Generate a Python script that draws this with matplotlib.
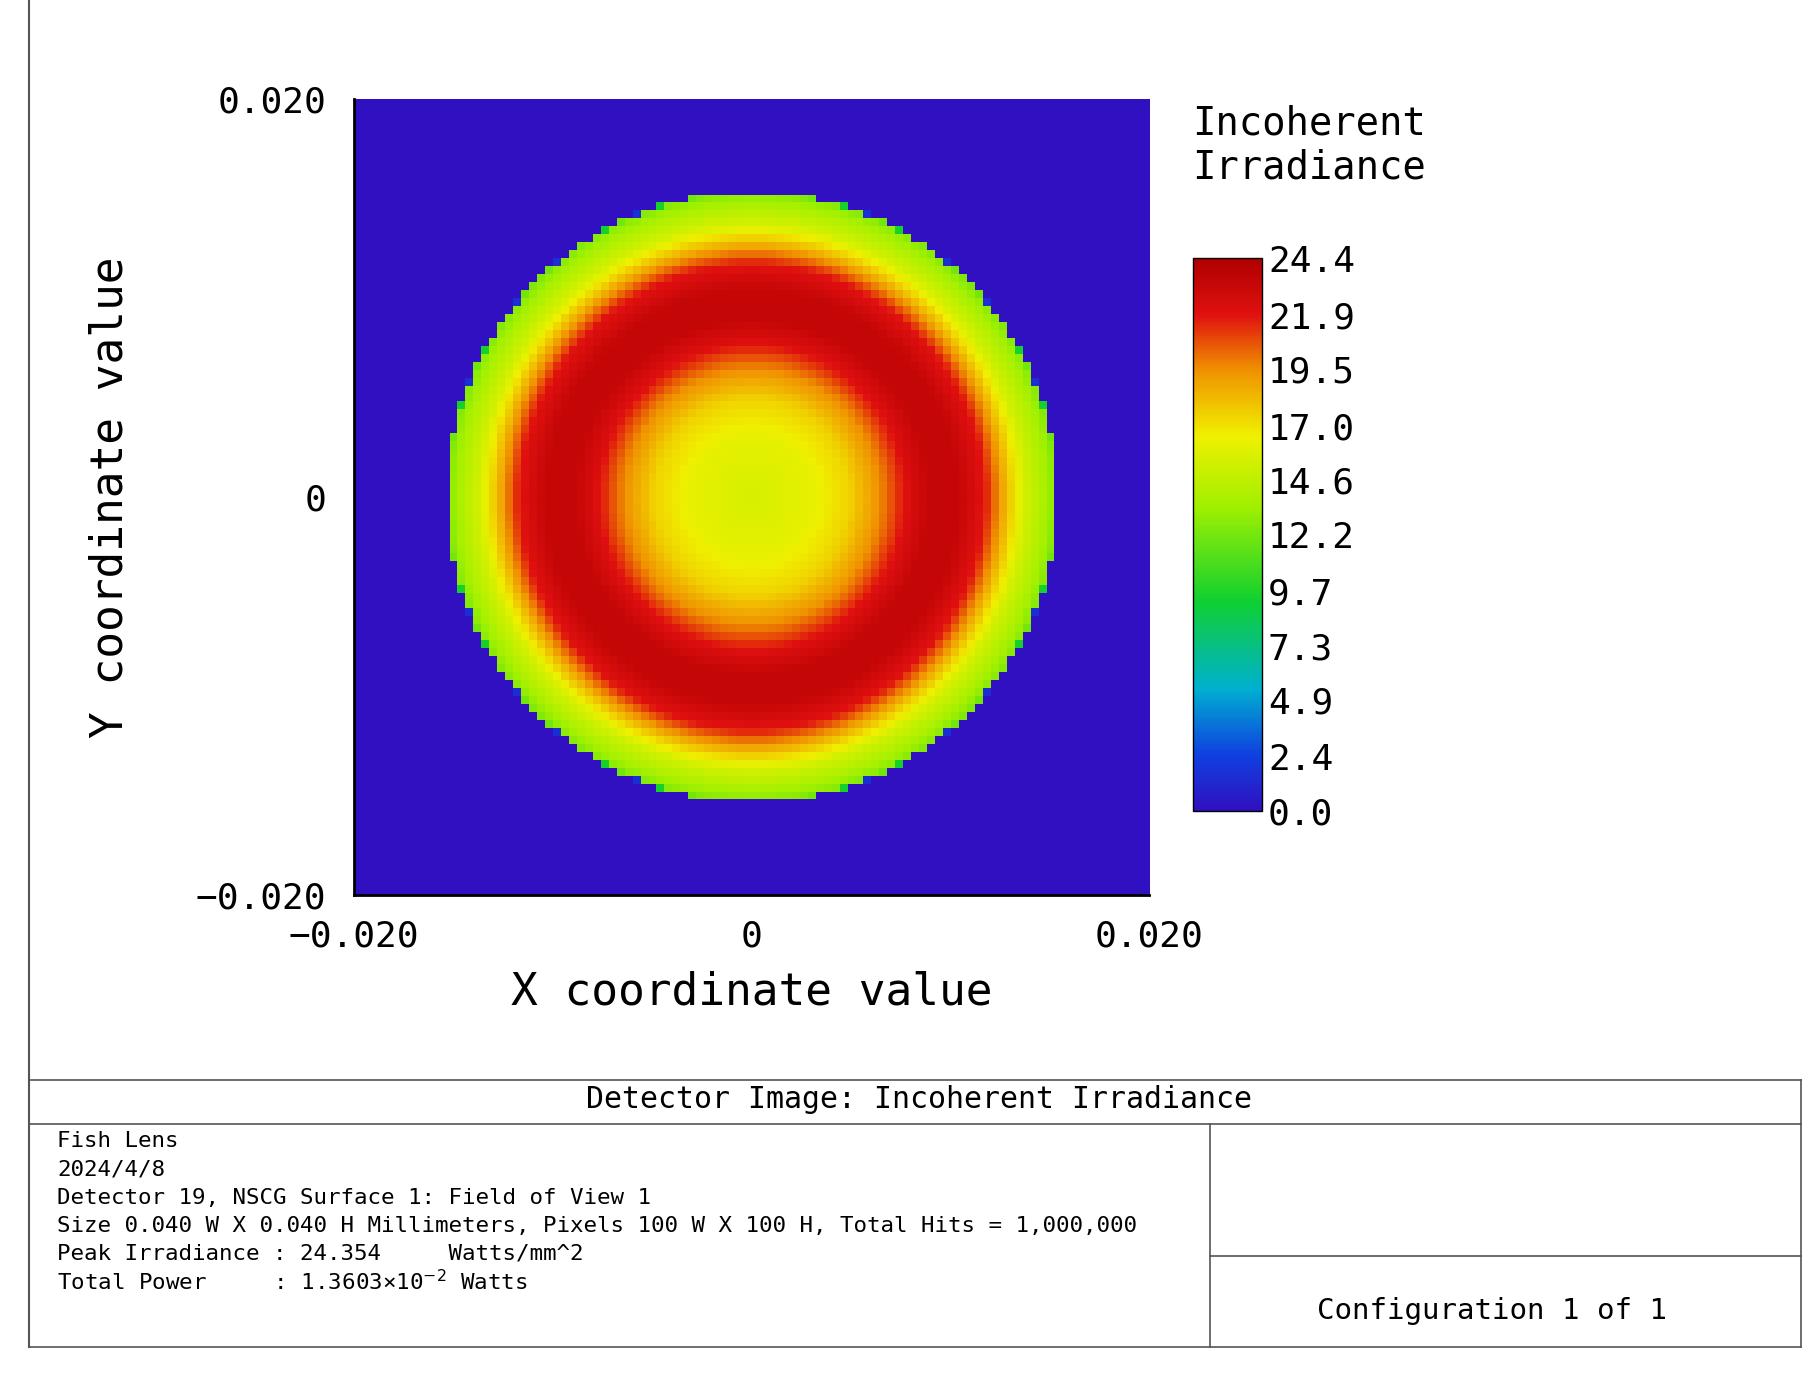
import numpy as np
import matplotlib.pyplot as plt
from matplotlib.colors import LinearSegmentedColormap

# radial irradiance profile (radius mm, W/mm^2)
radius_mm = [0.0, 0.003, 0.005, 0.0065, 0.0078, 0.009, 0.0105, 0.0118, 0.0128, 0.0138, 0.0150, 0.01545, 0.01550, 0.03]
irradiance = [15.5, 16.2, 17.5, 19.5, 22.0, 23.3, 23.3, 21.8, 18.5, 15.5, 13.5, 12.5, 0.0, 0.0]
n_pix = 100
half = 0.020
cbar_ticks = [0.0, 2.4, 4.9, 7.3, 9.7, 12.2, 14.6, 17.0, 19.5, 21.9, 24.4]

x = np.linspace(-half, half, n_pix)
X, Y = np.meshgrid(x, x)
img = np.interp(np.hypot(X, Y), radius_mm, irradiance)

cmap = LinearSegmentedColormap.from_list("zemax", [
    (0.0, "#3010c0"), (0.1, "#1040e0"), (0.22, "#00b0d0"), (0.38, "#10d030"),
    (0.55, "#a0f000"), (0.68, "#f0f000"), (0.8, "#f09000"), (0.9, "#e01010"), (1.0, "#b00000")])

mono = "DejaVu Sans Mono"
fig = plt.figure(figsize=(18.15, 13.74), dpi=100)
W, H = 1560, 1181

def box(x0, y0, x1, y1):
    return [x0 / W, 1 - y1 / H, (x1 - x0) / W, (y1 - y0) / H]

ax = fig.add_axes(box(303, 85, 989, 769))
im = ax.imshow(img, cmap=cmap, vmin=0, vmax=24.4, origin="lower",
               extent=[-half, half, -half, half], interpolation="nearest")
ax.set_xticks([-0.02, 0, 0.02], ["\u22120.020", "0", "0.020"])
ax.set_yticks([-0.02, 0, 0.02], ["\u22120.020", "0", "0.020"])
ax.tick_params(labelsize=26, length=0)
ax.tick_params(axis="x", pad=18)
ax.tick_params(axis="y", pad=20)
for lab in ax.get_xticklabels() + ax.get_yticklabels():
    lab.set_family(mono)
for s in ["top", "right"]:
    ax.spines[s].set_visible(False)
ax.spines["left"].set_linewidth(2)
ax.spines["bottom"].set_linewidth(2)
ax.set_xlabel("X coordinate value", fontsize=32, family=mono, labelpad=12)
ax.set_ylabel("Y coordinate value", fontsize=32, family=mono, labelpad=46)

cax = fig.add_axes(box(1025, 222, 1085, 697))
cb = fig.colorbar(im, cax=cax, ticks=cbar_ticks)
cb.ax.set_yticklabels([f"{t:.1f}" for t in cbar_ticks], family=mono)
cb.ax.tick_params(labelsize=26, length=0, pad=4)
cb.outline.set_linewidth(1)
fig.text(1025 / W, 1 - 125 / H, "Incoherent\nIrradiance", fontsize=28, family=mono,
         va="center", ha="left", linespacing=1.2)

# frame and info table
def line(x0, y0, x1, y1, lw=1.2):
    fig.add_artist(plt.Line2D([x0 / W, x1 / W], [1 - y0 / H, 1 - y1 / H], color="#555555", lw=lw))

line(25, 0, 25, 1158, 1.5)
line(25, 928, 1548, 928)
line(25, 966, 1548, 966)
line(25, 1158, 1548, 1158)
line(1548, 928, 1548, 1158)
line(1040, 966, 1040, 1158)
line(1040, 1080, 1548, 1080)
fig.text(790 / W, 1 - 945 / H, "Detector Image: Incoherent Irradiance", fontsize=21.5,
         family=mono, ha="center", va="center")
info = ["Fish Lens", "2024/4/8", "Detector 19, NSCG Surface 1: Field of View 1",
        "Size 0.040 W X 0.040 H Millimeters, Pixels 100 W X 100 H, Total Hits = 1,000,000",
        "Peak Irradiance : 24.354     Watts/mm^2",
        "Total Power     : 1.3603\u00d710$^{-2}$ Watts"]
for i, t in enumerate(info):
    fig.text(49 / W, 1 - (981 + i * 24.2) / H, t, fontsize=16.2, family=mono, va="center")
fig.text(1282 / W, 1 - 1127 / H, "Configuration 1 of 1", fontsize=21, family=mono,
         ha="center", va="center")

fig.savefig("out.png", dpi=100)
